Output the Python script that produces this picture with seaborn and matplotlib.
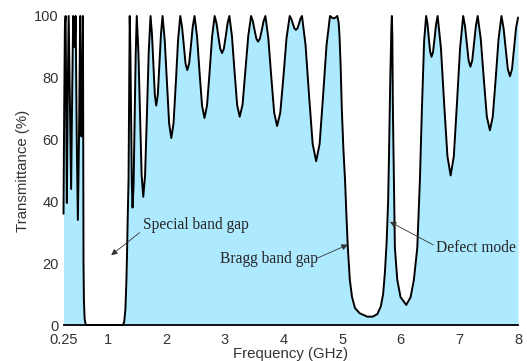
import matplotlib
matplotlib.use("Agg")
import matplotlib.pyplot as plt
import seaborn as sns

# (frequency GHz, transmittance %), one list per region
left_cluster = [(0.25, 36), (0.262, 70), (0.274, 97), (0.286, 100), (0.297, 70), (0.307, 39.5),
                (0.322, 75), (0.338, 100), (0.360, 70), (0.380, 44), (0.398, 75), (0.415, 100),
                (0.426, 93), (0.437, 90), (0.447, 93), (0.457, 100), (0.476, 60), (0.495, 34),
                (0.514, 60), (0.534, 100), (0.545, 75), (0.556, 61), (0.568, 78), (0.580, 100)]

special_gap = [(0.584, 80), (0.588, 47), (0.591, 20), (0.598, 8), (0.610, 2), (0.630, 0),
               (1.25, 0), (1.262, 0), (1.285, 1), (1.305, 5), (1.322, 14), (1.332, 22),
               (1.345, 35), (1.359, 47), (1.368, 70), (1.375, 92)]

passband_low = [(1.379, 100), (1.391, 87.6), (1.403, 65.9), (1.415, 45.4), (1.427, 38),
                (1.445, 45.4), (1.463, 65.9), (1.481, 87.6), (1.499, 100),
                (1.527, 88.3), (1.555, 67.8), (1.582, 48.5), (1.610, 41.5),
                (1.641, 48.5), (1.672, 67.8), (1.703, 88.3), (1.734, 100),
                (1.758, 94.2), (1.783, 84.1), (1.807, 74.5), (1.831, 71),
                (1.858, 74.5), (1.885, 84.1), (1.912, 94.2), (1.939, 100),
                (1.976, 92.1), (2.014, 78.3), (2.051, 65.2), (2.088, 60.5),
                (2.126, 65.2), (2.165, 78.3), (2.203, 92.1), (2.241, 100),
                (2.271, 96.5), (2.301, 90.4), (2.331, 84.6), (2.361, 82.5),
                (2.392, 84.6), (2.423, 90.4), (2.453, 96.5), (2.484, 100),
                (2.527, 93.4), (2.569, 81.9), (2.612, 71.0), (2.654, 67),
                (2.697, 71.0), (2.741, 81.9), (2.784, 93.4), (2.827, 100),
                (2.859, 97.6), (2.890, 93.4), (2.922, 89.4), (2.953, 88),
                (2.984, 89.4), (3.016, 93.4), (3.047, 97.6), (3.078, 100),
                (3.122, 93.5), (3.166, 82.1), (3.210, 71.3), (3.254, 67.4),
                (3.303, 71.3), (3.351, 82.1), (3.400, 93.5), (3.448, 100),
                (3.478, 98.3), (3.508, 95.4), (3.538, 92.7), (3.568, 91.7),
                (3.599, 92.7), (3.630, 95.4), (3.661, 98.3), (3.692, 100),
                (3.742, 92.9), (3.792, 80.4), (3.842, 68.7), (3.892, 64.4),
                (3.946, 68.7), (4.000, 80.4), (4.053, 92.9), (4.107, 100),
                (4.133, 99.1), (4.160, 97.5), (4.187, 96.0), (4.213, 95.5),
                (4.239, 96.0), (4.265, 97.5), (4.290, 99.1), (4.316, 100),
                (4.377, 90.6), (4.437, 74.2), (4.498, 58.6), (4.558, 53),
                (4.617, 58.6), (4.676, 74.2), (4.735, 90.6), (4.794, 100),
                (4.826, 99.5), (4.859, 99.2), (4.889, 99.5), (4.918, 100)]

bragg_gap = [(4.940, 98), (4.955, 94), (4.975, 84), (4.995, 70), (5.022, 57), (5.050, 47),
             (5.075, 35), (5.098, 25), (5.132, 14.6), (5.170, 9), (5.220, 5.5), (5.300, 3.8),
             (5.430, 2.7), (5.520, 2.7), (5.600, 3.5), (5.660, 6), (5.700, 10), (5.730, 17),
             (5.760, 27), (5.785, 40), (5.800, 55), (5.820, 78), (5.840, 96), (5.849, 100),
             (5.857, 93), (5.866, 70), (5.883, 47), (5.900, 25), (5.941, 14.6), (5.997, 9),
             (6.094, 6.5), (6.168, 9), (6.224, 14.6), (6.282, 25), (6.327, 47), (6.361, 70),
             (6.399, 92)]

passband_high = [(6.433, 100), (6.456, 97.4), (6.479, 92.7), (6.502, 88.4), (6.525, 86.8),
                 (6.551, 88.4), (6.577, 92.7), (6.603, 97.4), (6.629, 100),
                 (6.685, 89.7), (6.740, 71.6), (6.796, 54.6), (6.851, 48.4),
                 (6.905, 54.6), (6.958, 71.6), (7.012, 89.7), (7.065, 100),
                 (7.096, 96.7), (7.127, 91.0), (7.157, 85.6), (7.188, 83.6),
                 (7.219, 85.6), (7.250, 91.0), (7.281, 96.7), (7.312, 100),
                 (7.364, 92.6), (7.416, 79.7), (7.468, 67.4), (7.520, 63),
                 (7.569, 67.4), (7.619, 79.7), (7.668, 92.6), (7.717, 100),
                 (7.753, 96.1), (7.790, 89.3), (7.826, 82.8), (7.862, 80.5),
                 (7.897, 82.8), (7.931, 89.3), (7.966, 96.1), (8.0, 99.5)]

x_ticks = [0.25, 1, 2, 3, 4, 5, 6, 7, 8]
x_tick_labels = ["0.25", "1", "2", "3", "4", "5", "6", "7", "8"]
y_ticks = [0, 20, 40, 60, 80, 100]

points = left_cluster + special_gap + passband_low + bragg_gap + passband_high
freq = [p[0] for p in points]
trans = [p[1] for p in points]

sns.set_style("white")
plt.rcParams["font.family"] = ["Liberation Sans", "DejaVu Sans"]

fig = plt.figure(figsize=(5.27, 3.61), dpi=100)
ax = fig.add_axes([0.1205, 0.0997, 0.8625, 0.856])

ax.fill_between(freq, 0, trans, color="#aeeaff", linewidth=0, zorder=3)
sns.lineplot(x=freq, y=trans, color="black", linewidth=1.4, sort=False,
             ax=ax, zorder=4, clip_on=False)

ax.set_xlim(0.25, 8)
ax.set_ylim(0, 100)
ax.set_xticks(x_ticks)
ax.set_xticklabels(x_tick_labels)
ax.set_yticks(y_ticks)
ax.tick_params(direction="in", length=4, width=0.6, color="#555555",
               labelcolor="#333333", labelsize=10.5)
ax.tick_params(axis="x", pad=6)
ax.tick_params(axis="y", pad=3.5)

for side in ["top", "right", "left"]:
    ax.spines[side].set_visible(False)
ax.spines["bottom"].set_color("black")
ax.spines["bottom"].set_linewidth(1.3)
ax.spines["bottom"].set_zorder(5)

ax.set_xlabel("Frequency (GHz)", fontsize=10.8, color="#333333")
ax.set_ylabel("Transmittance (%)", fontsize=10.8, color="#333333")
ax.xaxis.set_label_coords(0.5, -0.071)
ax.yaxis.set_label_coords(-0.073, 0.5)

arrow = dict(arrowstyle="-|>", color="#333333", lw=0.6, mutation_scale=9,
             shrinkA=0, shrinkB=0)
serif = ["Liberation Serif", "DejaVu Serif"]
ax.annotate("", xy=(1.063, 22.6), xytext=(1.548, 29.9), arrowprops=arrow, zorder=6)
ax.text(1.60, 32.4, "Special band gap", family=serif, fontsize=11.2,
        va="center", ha="left", zorder=6)
ax.annotate("", xy=(5.098, 26), xytext=(4.585, 21.7), arrowprops=arrow, zorder=6)
ax.text(2.926, 21.4, "Bragg band gap", family=serif, fontsize=11.2,
        va="center", ha="left", zorder=6)
ax.annotate("", xy=(5.815, 33.4), xytext=(6.556, 25.9), arrowprops=arrow, zorder=6)
ax.text(6.60, 25.0, "Defect mode", family=serif, fontsize=11.2,
        va="center", ha="left", zorder=6)

fig.savefig("out.png", dpi=100)
